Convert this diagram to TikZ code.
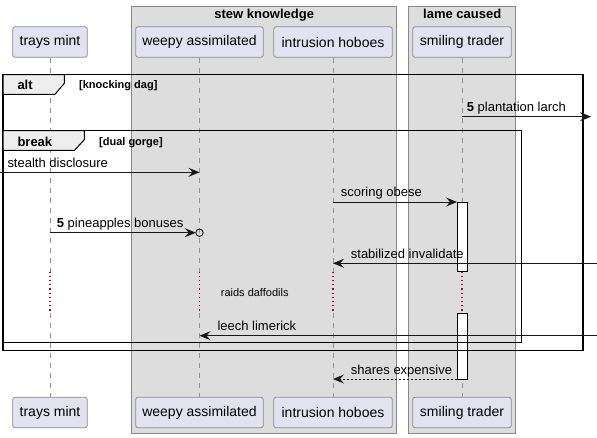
\documentclass[tikz,border=0pt]{standalone}
\usepackage{fontspec}
\setmainfont{Liberation Sans}
\usetikzlibrary{arrows.meta}
\definecolor{partfill}{HTML}{E2E2F0}
\definecolor{partdraw}{HTML}{8C8C8C}
\definecolor{boxfill}{HTML}{DDDDDD}
\definecolor{boxdraw}{HTML}{888888}
\definecolor{tabfill}{HTML}{EEEEEE}
\definecolor{delaycol}{HTML}{A80036}
\definecolor{msgcol}{HTML}{181818}
\tikzset{
  participant/.style={rectangle, rounded corners=2.5pt, draw=partdraw, fill=partfill, line width=0.8pt,
    minimum height=30.6pt, inner sep=0pt, font=\fontsize{14}{16}\selectfont},
  groupbox/.style={draw=boxdraw, fill=boxfill, line width=0.8pt},
  boxtitle/.style={inner sep=0pt, anchor=base, font=\fontsize{13}{15}\selectfont\bfseries},
  lifeline/.style={draw=gray!85, line width=0.8pt, dash pattern=on 5pt off 5pt},
  delayline/.style={draw=delaycol, line width=1.2pt, dash pattern=on 1.2pt off 3pt},
  activation/.style={draw=black, fill=white, line width=0.8pt},
  frameline/.style={draw=black, line width=1.5pt},
  tabshape/.style={draw=black, fill=tabfill, line width=1pt},
  tabtitle/.style={inner sep=0pt, anchor=base west, font=\fontsize{13}{15}\selectfont\bfseries},
  guardtext/.style={inner sep=0pt, anchor=base west, font=\fontsize{11}{13}\selectfont\bfseries},
  msg/.style={draw=msgcol, line width=0.9pt, -{Stealth[length=11pt,width=9pt,inset=4pt]}},
  replymsg/.style={msg, dash pattern=on 2pt off 2pt},
  msgtext/.style={inner sep=0pt, anchor=base west, font=\fontsize{13}{15}\selectfont},
  delaytext/.style={inner sep=0pt, anchor=base, font=\fontsize{11}{13}\selectfont},
}
\begin{document}
\begin{tikzpicture}[x=1pt,y=-1pt]
\useasboundingbox (0,0) rectangle (597,438);
\fill[white] (0,0) rectangle (597,438);

% group boxes
\draw[groupbox] (131.7,6) rectangle (396.7,433);
\draw[groupbox] (408.7,6) rectangle (515.7,433);
\node[boxtitle] (bt1) at (264.2,18.3) {stew knowledge};
\node[boxtitle] (bt2) at (462.2,18.3) {lame caused};

% participants
\node[participant, minimum width=74.6pt] (p1) at (50,42) {trays mint};
\node[participant, minimum width=127.6pt] (p2) at (199.5,42) {weepy assimilated};
\node[participant, minimum width=118.6pt] (p3) at (333,42) {intrusion hoboes};
\node[participant, minimum width=98.6pt] (p4) at (462,42) {smiling trader};
\node[participant, minimum width=74.6pt] (q1) at (50,412.5) {trays mint};
\node[participant, minimum width=127.6pt] (q2) at (199.5,412.5) {weepy assimilated};
\node[participant, minimum width=118.6pt] (q3) at (333,412.5) {intrusion hoboes};
\node[participant, minimum width=98.6pt] (q4) at (462,412.5) {smiling trader};

% delay coordinates
\foreach \i/\x in {1/50,2/199.5,3/333,4/462}{
  \coordinate (da\i) at (\x,271.7);
  \coordinate (db\i) at (\x,313.3);
}
% lifelines
\foreach \i in {1,2,3,4}{
  \draw[lifeline] (p\i.south) -- (da\i);
  \draw[delayline] (da\i) -- (db\i);
  \draw[lifeline] (db\i) -- (q\i.north);
}

% activations
\draw[activation] (457,202) rectangle (467,271.7);
\draw[activation] (457,313.3) rectangle (467,379);

% frames
\draw[frameline] (3,74.7) rectangle (583,350.7);
\draw[tabshape] (3,74.7) -- (64.3,74.7) -- (64.3,83.3) -- (55,94.3) -- (3,94.3) -- cycle;
\node[tabtitle] (altl) at (17.3,90) {alt};
\node[guardtext] (altg) at (79,89) {[knocking dag]};

\draw[frameline] (3,130.7) rectangle (521.7,342.7);
\draw[tabshape] (3,130.7) -- (84.3,130.7) -- (84.3,139.7) -- (74.3,150.5) -- (3,150.5) -- cycle;
\node[tabtitle] (brl) at (17.3,146.3) {break};
\node[guardtext] (brg) at (99,145.5) {[dual gorge]};

% message endpoints
\coordinate (m1a) at (462,116.7);   \coordinate (m1b) at (591,116.7);
\coordinate (m2a) at (0,172.3);     \coordinate (m2b) at (199.5,172.3);
\coordinate (m3a) at (333,202);     \coordinate (m3b) at (457,202);
\coordinate (m4a) at (50,232.7);    \coordinate (m4b) at (195.8,232.7);
\coordinate (m4c) at (199.5,232.7);
\coordinate (m5a) at (597,263.3);   \coordinate (m5b) at (333,263.3);
\coordinate (m6a) at (597,335.7);   \coordinate (m6b) at (199.5,335.7);
\coordinate (m7a) at (457,379);     \coordinate (m7b) at (333,379);

% messages
\draw[msg] (m1a) -- (m1b);
\node[msgtext] (t1) at (466.7,111.5) {{\bfseries 5} plantation larch};
\draw[msg] (m2a) -- (m2b);
\node[msgtext] (t2) at (7.3,167.3) {stealth disclosure};
\draw[msg] (m3a) -- (m3b);
\node[msgtext] (t3) at (340.7,197) {scoring obese};
\draw[msg] (m4a) -- (m4b);
\draw[draw=msgcol, line width=0.9pt] (m4c) circle (3.7pt);
\node[msgtext] (t4) at (56.7,227.5) {{\bfseries 5} pineapples bonuses};
\draw[msg] (m5a) -- (m5b);
\node[msgtext] (t5) at (350.7,258.3) {stabilized invalidate};
\node[delaytext] (t6) at (254.7,297) {raids daffodils};
\draw[msg] (m6a) -- (m6b);
\node[msgtext] (t7) at (217.3,330.7) {leech limerick};
\draw[replymsg] (m7a) -- (m7b);
\node[msgtext] (t8) at (350.7,374.3) {shares expensive};
\end{tikzpicture}
\end{document}
